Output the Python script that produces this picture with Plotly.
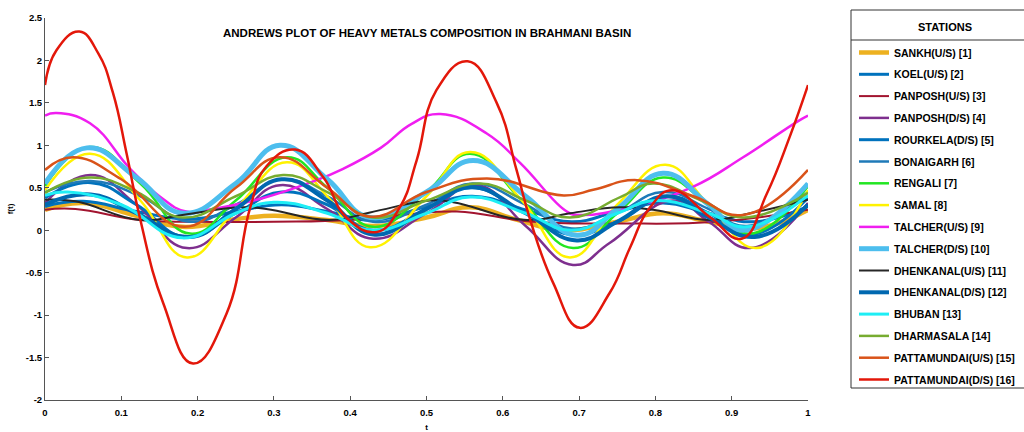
import plotly.graph_objects as go

# ---------------- data ----------------
STATIONS = ["SANKH(U/S) [1]", "KOEL(U/S) [2]", "PANPOSH(U/S) [3]", "PANPOSH(D/S) [4]",
            "ROURKELA(D/S) [5]", "BONAIGARH [6]", "RENGALI [7]", "SAMAL [8]",
            "TALCHER(U/S) [9]", "TALCHER(D/S) [10]", "DHENKANAL(U/S) [11]",
            "DHENKANAL(D/S) [12]", "BHUBAN [13]", "DHARMASALA [14]",
            "PATTAMUNDAI(U/S) [15]", "PATTAMUNDAI(D/S) [16]"]

SANKH_T = [0, 0.05, 0.12, 0.18, 0.25, 0.30, 0.37, 0.43, 0.50, 0.557, 0.62, 0.68, 0.75, 0.81, 0.87, 0.93, 1.0]
SANKH_F = [0.24, 0.32, 0.17, 0.04, 0.13, 0.17, 0.12, 0.05, 0.15, 0.27, 0.12, 0.0, 0.1, 0.2, 0.1, 0.02, 0.24]

KOEL_T = [0, 0.05, 0.12, 0.19, 0.25, 0.31, 0.37, 0.43, 0.50, 0.56, 0.63, 0.69, 0.75, 0.81, 0.87, 0.93, 1.0]
KOEL_F = [0.28, 0.34, 0.22, 0.13, 0.22, 0.30, 0.22, 0.12, 0.28, 0.40, 0.24, 0.10, 0.22, 0.32, 0.20, 0.10, 0.28]

PANPOSH_US_T = [0, 0.04, 0.125, 0.20, 0.30, 0.40, 0.48, 0.54, 0.64, 0.75, 0.88, 1.0]
PANPOSH_US_F = [0.24, 0.25, 0.12, 0.10, 0.10, 0.12, 0.19, 0.22, 0.10, 0.08, 0.10, 0.24]

PANPOSH_DS_T = [0, 0.06, 0.12, 0.186, 0.25, 0.308, 0.37, 0.43, 0.50, 0.566, 0.63, 0.692, 0.74, 0.823, 0.87, 0.924, 1.0]
PANPOSH_DS_F = [0.32, 0.65, 0.30, -0.21, 0.15, 0.53, 0.25, -0.10, 0.20, 0.53, 0.05, -0.41, -0.15, 0.35, 0.10, -0.21, 0.32]

ROURKELA_T = [0, 0.06, 0.12, 0.185, 0.25, 0.31, 0.37, 0.43, 0.50, 0.56, 0.63, 0.69, 0.75, 0.815, 0.87, 0.925, 1.0]
ROURKELA_F = [0.38, 0.56, 0.30, -0.08, 0.20, 0.45, 0.30, 0.0, 0.25, 0.50, 0.20, -0.05, 0.10, 0.40, 0.20, -0.05, 0.38]

BONAIGARH_T = [0, 0.06, 0.125, 0.19, 0.25, 0.31, 0.37, 0.43, 0.50, 0.56, 0.63, 0.69, 0.75, 0.81, 0.87, 0.92, 1.0]
BONAIGARH_F = [0.45, 0.58, 0.40, 0.10, 0.30, 0.60, 0.40, 0.10, 0.30, 0.55, 0.30, 0.02, 0.20, 0.45, 0.25, 0.05, 0.45]

RENGALI_T = [0, 0.059, 0.125, 0.19, 0.25, 0.317, 0.37, 0.43, 0.50, 0.557, 0.625, 0.692, 0.75, 0.81, 0.87, 0.924, 1.0]
RENGALI_F = [0.52, 0.98, 0.55, -0.04, 0.35, 0.86, 0.50, 0.04, 0.45, 0.90, 0.35, -0.21, 0.20, 0.62, 0.30, -0.04, 0.52]

SAMAL_T = [0, 0.059, 0.125, 0.186, 0.25, 0.317, 0.37, 0.426, 0.50, 0.557, 0.625, 0.688, 0.75, 0.813, 0.87, 0.933, 1.0]
SAMAL_F = [0.47, 0.90, 0.35, -0.32, 0.25, 0.80, 0.40, -0.20, 0.40, 0.92, 0.35, -0.32, 0.30, 0.77, 0.30, -0.21, 0.47]

TALCHER_US_T = [0, 0.015, 0.059, 0.111, 0.15, 0.185, 0.22, 0.286, 0.35, 0.39, 0.44, 0.48, 0.518, 0.579, 0.623, 0.684, 0.70, 0.771, 0.849, 0.915, 0.986, 1.0]
TALCHER_US_F = [1.35, 1.38, 1.26, 0.73, 0.40, 0.22, 0.25, 0.38, 0.57, 0.72, 0.97, 1.25, 1.37, 1.14, 0.79, 0.22, 0.18, 0.28, 0.51, 0.86, 1.28, 1.35]

TALCHER_DS_T = [0, 0.055, 0.12, 0.181, 0.25, 0.308, 0.37, 0.426, 0.50, 0.561, 0.63, 0.697, 0.75, 0.81, 0.87, 0.915, 1.0]
TALCHER_DS_F = [0.55, 0.97, 0.62, 0.20, 0.55, 1.00, 0.60, 0.15, 0.45, 0.82, 0.40, -0.06, 0.25, 0.67, 0.30, 0.0, 0.55]

DHENKANAL_US_T = [0, 0.04, 0.125, 0.18, 0.256, 0.29, 0.373, 0.426, 0.505, 0.535, 0.632, 0.688, 0.754, 0.797, 0.872, 0.924, 1.0]
DHENKANAL_US_F = [0.36, 0.34, 0.12, 0.18, 0.27, 0.25, 0.12, 0.21, 0.35, 0.33, 0.12, 0.20, 0.27, 0.24, 0.12, 0.20, 0.36]

DHENKANAL_DS_T = [0, 0.06, 0.12, 0.19, 0.25, 0.31, 0.37, 0.43, 0.50, 0.557, 0.63, 0.697, 0.75, 0.815, 0.87, 0.93, 1.0]
DHENKANAL_DS_F = [0.30, 0.42, 0.20, -0.08, 0.25, 0.60, 0.35, -0.05, 0.25, 0.51, 0.20, -0.12, 0.10, 0.40, 0.15, -0.08, 0.30]

BHUBAN_T = [0, 0.03, 0.10, 0.18, 0.25, 0.30, 0.37, 0.43, 0.50, 0.557, 0.63, 0.69, 0.75, 0.80, 0.87, 0.92, 1.0]
BHUBAN_F = [0.41, 0.45, 0.30, -0.09, 0.20, 0.33, 0.20, 0.0, 0.20, 0.39, 0.20, 0.0, 0.20, 0.35, 0.20, 0.04, 0.41]

DHARMASALA_T = [0, 0.059, 0.12, 0.18, 0.25, 0.312, 0.37, 0.43, 0.50, 0.57, 0.63, 0.688, 0.754, 0.797, 0.86, 0.915, 1.0]
DHARMASALA_F = [0.44, 0.62, 0.45, 0.15, 0.40, 0.65, 0.45, 0.15, 0.35, 0.55, 0.35, 0.15, 0.39, 0.55, 0.35, 0.15, 0.44]

PATTA_US_T = [0, 0.037, 0.10, 0.183, 0.25, 0.308, 0.37, 0.426, 0.50, 0.579, 0.68, 0.72, 0.776, 0.85, 0.915, 1.0]
PATTA_US_F = [0.71, 0.86, 0.60, 0.04, 0.50, 0.86, 0.50, 0.16, 0.45, 0.61, 0.41, 0.48, 0.59, 0.40, 0.18, 0.71]

PATTA_DS_T = [0, 0.015, 0.045, 0.07, 0.089, 0.107, 0.125, 0.155, 0.194, 0.238, 0.269, 0.29, 0.328, 0.365,
              0.395, 0.435, 0.465, 0.487, 0.513, 0.554, 0.592, 0.618, 0.636, 0.666, 0.701, 0.740,
              0.767, 0.793, 0.822, 0.872, 0.913, 0.946, 0.976, 1.0]
PATTA_DS_F = [1.71, 2.12, 2.34, 2.08, 1.62, 0.90, 0.12, -0.86, -1.57, -0.98, 0.27, 0.75, 0.95, 0.62,
              0.15, -0.02, 0.27, 0.82, 1.65, 1.99, 1.50, 0.71, 0.12, -0.62, -1.15, -0.74,
              -0.20, 0.27, 0.47, 0.15, -0.10, 0.43, 1.10, 1.71]

X_TICKS = [0, 0.1, 0.2, 0.3, 0.4, 0.5, 0.6, 0.7, 0.8, 0.9, 1]
X_TICK_TEXT = ["0", "0.1", "0.2", "0.3", "0.4", "0.5", "0.6", "0.7", "0.8", "0.9", "1"]
Y_TICKS = [-2, -1.5, -1, -0.5, 0, 0.5, 1, 1.5, 2, 2.5]
Y_TICK_TEXT = ["-2", "-1.5", "-1", "-0.5", "0", "0.5", "1", "1.5", "2", "2.5"]

# ---------------- styling ----------------
SERIES = [
    (SANKH_T, SANKH_F, "#EDB120", 4.5),
    (KOEL_T, KOEL_F, "#0072BD", 3),
    (PANPOSH_US_T, PANPOSH_US_F, "#A2142F", 2),
    (PANPOSH_DS_T, PANPOSH_DS_F, "#7E2F8E", 2.5),
    (ROURKELA_T, ROURKELA_F, "#0072BD", 3),
    (BONAIGARH_T, BONAIGARH_F, "#1F7AB8", 2.5),
    (RENGALI_T, RENGALI_F, "#22E622", 2.5),
    (SAMAL_T, SAMAL_F, "#FFF200", 2.5),
    (TALCHER_US_T, TALCHER_US_F, "#F01EF0", 2.5),
    (TALCHER_DS_T, TALCHER_DS_F, "#4DBEEE", 5),
    (DHENKANAL_US_T, DHENKANAL_US_F, "#262626", 2),
    (DHENKANAL_DS_T, DHENKANAL_DS_F, "#0068B0", 4),
    (BHUBAN_T, BHUBAN_F, "#1EEEF5", 3),
    (DHARMASALA_T, DHARMASALA_F, "#77AC30", 2.5),
    (PATTA_US_T, PATTA_US_F, "#D95319", 2.5),
    (PATTA_DS_T, PATTA_DS_F, "#E3170A", 2.5),
]

fig = go.Figure()
for i, (name, (t, f, col, w)) in enumerate(zip(STATIONS, SERIES)):
    fig.add_trace(go.Scatter(
        x=t, y=f, mode="lines", name=name, legendgroup=f"g{i}",
        line=dict(color=col, width=w, shape="spline", smoothing=1.3),
    ))

FONT = "Liberation Sans, Arial, sans-serif"
L, R, TOP, B = 45, 216, 18, 32
W, H = 1024, 432
pw, ph = W - L - R, H - TOP - B


def px_x(x):
    return (x - L) / pw


def px_y(y):
    return (H - B - y) / ph


fig.update_layout(
    width=W, height=H,
    margin=dict(l=L, r=R, t=TOP, b=B, pad=0, autoexpand=False),
    paper_bgcolor="white", plot_bgcolor="white",
    font=dict(family=FONT, size=9, color="#000000", weight=700),
    showlegend=True,
    legend=dict(
        x=px_x(854), y=px_y(38), xanchor="left", yanchor="top",
        borderwidth=0, bgcolor="rgba(0,0,0,0)",
        font=dict(family=FONT, size=10.5, color="#000000", weight=700),
        tracegroupgap=2.8, itemwidth=30, maxheight=420,
    ),
    annotations=[
        dict(text="ANDREWS PLOT OF HEAVY METALS COMPOSITION IN BRAHMANI BASIN",
             xref="paper", yref="paper", x=0.5, y=px_y(33),
             showarrow=False, xanchor="center", yanchor="middle",
             font=dict(family=FONT, size=11.5, color="#000000", weight=700)),
        dict(text="STATIONS", xref="paper", yref="paper", x=px_x(945), y=px_y(27),
             showarrow=False, xanchor="center", yanchor="middle",
             font=dict(family=FONT, size=11, color="#000000", weight=700)),
    ],
    shapes=[
        dict(type="rect", xref="paper", yref="paper",
             x0=px_x(851), x1=px_x(1040), y0=px_y(388), y1=px_y(10),
             line=dict(color="#333333", width=1), fillcolor="rgba(0,0,0,0)"),
        dict(type="line", xref="paper", yref="paper",
             x0=px_x(851), x1=px_x(1040), y0=px_y(40), y1=px_y(40),
             line=dict(color="#333333", width=1)),
    ],
)

fig.update_xaxes(
    range=[0, 1], tickvals=X_TICKS, ticktext=X_TICK_TEXT,
    showgrid=False, zeroline=False, showline=True, linecolor="#555555", linewidth=1,
    ticks="inside", ticklen=4, tickcolor="#555555", ticklabelstandoff=4,
    title=dict(text="t", standoff=10, font=dict(size=8)),
    tickfont=dict(size=9.5),
)
fig.update_yaxes(
    range=[-2, 2.5], tickvals=Y_TICKS, ticktext=Y_TICK_TEXT,
    showgrid=False, zeroline=False, showline=True, linecolor="#555555", linewidth=1,
    ticks="inside", ticklen=4, tickcolor="#555555",
    title=dict(text="f(t)", standoff=10, font=dict(size=8)),
    tickfont=dict(size=9.5),
)

fig.write_html("out.html")
